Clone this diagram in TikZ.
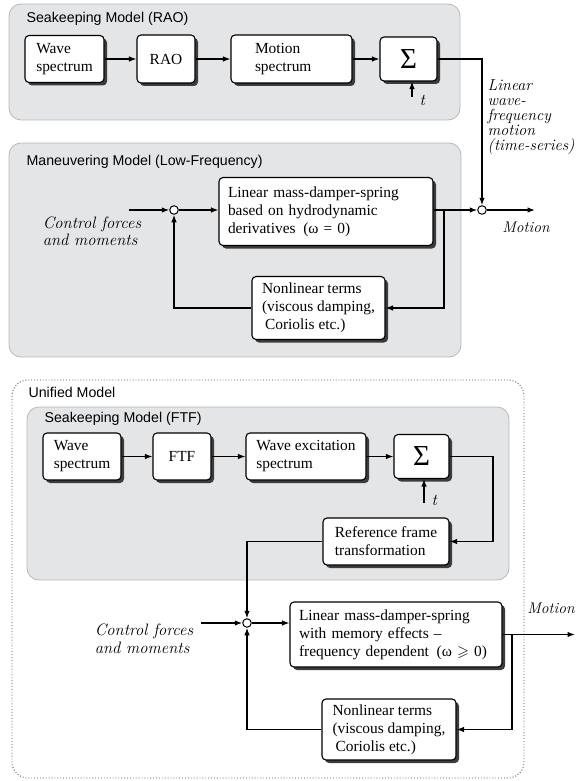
\documentclass[tikz,border=0pt]{standalone}
\usepackage{amsmath,amssymb}
\usepackage{fontspec}
\usepackage{tikz}
\usepackage{xcolor}
\usetikzlibrary{positioning,arrows.meta,shadows}

\newfontfamily\boxfont{Liberation Serif}
\newfontfamily\panelfont{Liberation Sans}

\definecolor{panelgray}{RGB}{227,229,231}
\definecolor{paneledge}{RGB}{182,184,186}
\definecolor{shadowgray}{RGB}{60,60,60}

\begin{document}
\begin{tikzpicture}[x=1pt,y=-1pt,line width=1.2pt,
  panel/.style={fill=panelgray,draw=paneledge,line width=0.8pt,rounded corners=12pt},
  paneltitle/.style={anchor=west,inner sep=0pt,font=\panelfont\fontsize{14.2}{16}\selectfont},
  block/.style={draw=black,fill=white,rounded corners=4pt,line width=1.1pt,
    font=\boxfont\fontsize{15.4}{18}\selectfont,align=left,inner xsep=8pt,inner ysep=3pt,
    drop shadow={shadow xshift=3pt,shadow yshift=-3pt,fill=shadowgray,opacity=1}},
  sumbox/.style={block,font=\boxfont\fontsize{29}{30}\selectfont,align=center,inner sep=0pt},
  junc/.style={circle,draw=black,fill=white,line width=1pt,minimum size=8.5pt,inner sep=0pt},
  lbl/.style={font=\itshape\fontsize{16.5}{17.5}\selectfont,align=left,inner sep=0pt},
  arr/.style={-{Latex[length=7.5pt,width=5.5pt]}}]

  \useasboundingbox (0,0) rectangle (577,781);

  % ---------- top: seakeeping model (RAO) ----------
  \draw[panel] (9,4) rectangle (460,120);
  \node[paneltitle] at (26,19) {Seakeeping Model (RAO)};

  \node[block,minimum width=79pt,minimum height=47pt] (wave1) at (64.5,59) {Wave\\spectrum};
  \node[block,minimum width=58pt,minimum height=48pt] (rao) at (166,59) {RAO};
  \node[block,minimum width=121pt,minimum height=48pt,text width=73pt] (motspec) at (291.5,59) {Motion\\spectrum};
  \node[sumbox,minimum width=57pt,minimum height=44pt] (sum1) at (408.5,59) {Σ};
  \coordinate (t1) at (412,97);
  \node[lbl,anchor=west] at (419,100) {t};

  \draw[arr] (wave1) -- (rao);
  \draw[arr] (rao) -- (motspec);
  \draw[arr] (motspec) -- (sum1);
  \draw[arr] (t1) -- (t1 |- sum1.south);

  \node[lbl,anchor=north west,font=\itshape\fontsize{16}{15}\selectfont] (wflabel) at (487,79)
    {Linear\\wave-\\frequency\\motion\\(time-series)};

  % ---------- middle: maneuvering model ----------
  \draw[panel] (9,143) rectangle (461,357);
  \node[paneltitle] at (26,162) {Maneuvering Model (Low-Frequency)};

  \node[junc] (circ1) at (174,210) {};
  \node[block,minimum width=214pt,minimum height=68pt,text width=196pt] (lin1) at (326,211.5)
    {Linear mass-damper-spring\\based on hydrodynamic\\derivatives\enspace(ω = 0)};
  \node[block,minimum width=133pt,minimum height=63pt,inner xsep=5pt] (nl1) at (318.5,308)
    {Nonlinear terms\\(viscous damping,\\\hspace*{3pt}Coriolis etc.)};
  \node[junc] (circ2) at (482,210) {};

  \coordinate (in1) at (129,210);
  \coordinate (out1) at (535,210);
  \coordinate (br1) at (444,210);
  \node[lbl] (cf1) at (92,231.5) {Control forces\\and moments};
  \node[lbl,font=\itshape\fontsize{15.5}{17}\selectfont] (mot1) at (526,227) {Motion};

  \draw[arr] (in1) -- (circ1);
  \draw[arr] (circ1) -- (circ1 -| lin1.west);
  \draw[arr] (circ2 -| lin1.east) -- (circ2);
  \draw[arr] (br1) |- (nl1.east);
  \draw[arr] (nl1.west) -| (circ1.south);
  \draw[arr] (circ2) -- (out1);
  \draw[arr] (sum1.east) -| (circ2.north);

  % ---------- bottom: unified model ----------
  \draw[dotted,line width=0.9pt,draw=black!70,rounded corners=16pt] (12,380) rectangle (524,778);
  \node[paneltitle] at (28,392) {Unified Model};

  \draw[panel] (27,407) rectangle (509,580);
  \node[paneltitle] at (44,419) {Seakeeping Model (FTF)};

  \node[block,minimum width=78pt,minimum height=47pt] (wave2) at (82,456.5) {Wave\\spectrum};
  \node[block,minimum width=58pt,minimum height=47pt] (ftf) at (182,456.5) {FTF};
  \node[block,minimum width=120pt,minimum height=47pt] (wexc) at (306,456.5) {Wave excitation\\spectrum};
  \node[sumbox,minimum width=55pt,minimum height=44pt] (sum2) at (421.5,456.5) {Σ};
  \node[block,minimum width=126pt,minimum height=47pt] (ref) at (386,541.5) {Reference frame\\transformation};
  \coordinate (t2) at (424,503);
  \node[lbl,anchor=west] at (431,500) {t};
  \coordinate (turn2) at (493,456.5);

  \draw[arr] (wave2) -- (ftf);
  \draw[arr] (ftf) -- (wexc);
  \draw[arr] (wexc) -- (sum2);
  \draw[arr] (t2) -- (t2 |- sum2.south);
  \draw[arr] (sum2.east) -- (turn2) |- (ref.east);

  \node[junc] (circ3) at (247,623) {};
  \node[block,minimum width=212pt,minimum height=65pt,text width=194pt] (lin2) at (396,634.5)
    {Linear mass-damper-spring\\with memory effects –\\frequency dependent\enspace(ω $\geqslant$ 0)};
  \node[block,minimum width=134pt,minimum height=61pt,inner xsep=5pt] (nl2) at (389,729.5)
    {Nonlinear terms\\(viscous damping,\\\hspace*{3pt}Coriolis etc.)};

  \coordinate (in2) at (201,623);
  \coordinate (out2) at (575,634.5);
  \coordinate (br2) at (512,634.5);
  \node[lbl] (cf2) at (144,639) {Control forces\\and moments};
  \node[lbl,font=\itshape\fontsize{15.5}{17}\selectfont] (mot2) at (551,608) {Motion};

  \draw[arr] (ref.west) -| (circ3.north);
  \draw[arr] (in2) -- (circ3);
  \draw[arr] (circ3) -- (circ3 -| lin2.west);
  \draw[arr] (lin2.east) -- (out2);
  \draw[arr] (br2) |- (nl2.east);
  \draw[arr] (nl2.west) -| (circ3.south);

\end{tikzpicture}
\end{document}
